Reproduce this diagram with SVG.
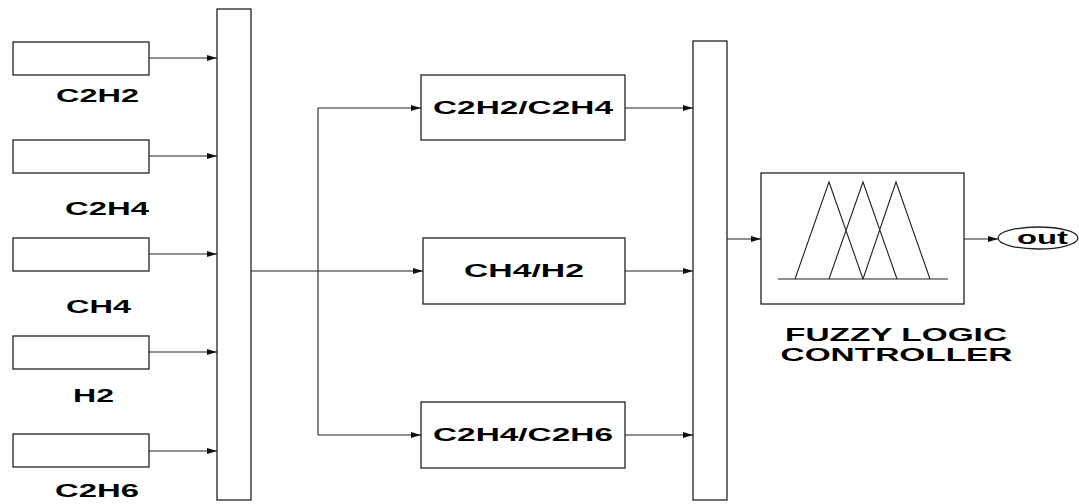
<svg xmlns="http://www.w3.org/2000/svg" width="1079" height="504" viewBox="0 0 1079 504">
<style>
.box{fill:#fff;stroke:#222;stroke-width:1.3}
.ln{fill:none;stroke:#222;stroke-width:1.1}
.t{font-family:"Liberation Sans",Arial,sans-serif;font-weight:bold;font-size:17.5px;fill:#000}
</style>
<defs>
<marker id="ah" viewBox="0 0 10 6" refX="10" refY="3" markerWidth="10" markerHeight="6" markerUnits="userSpaceOnUse" orient="auto">
<path d="M0,0 L10,3 L0,6 z" fill="#111"/>
</marker>
</defs>
<rect width="1079" height="504" fill="#fff"/>
<g id="in-c2h2"><rect class="box" x="13" y="42" width="136" height="33"/><text class="t" x="56" y="102" textLength="83" lengthAdjust="spacingAndGlyphs">C2H2</text></g>
<g id="in-c2h4"><rect class="box" x="13" y="140" width="136" height="33"/><text class="t" x="65" y="215" textLength="84" lengthAdjust="spacingAndGlyphs">C2H4</text></g>
<g id="in-ch4"><rect class="box" x="13" y="238" width="136" height="33"/><text class="t" x="66" y="313" textLength="65" lengthAdjust="spacingAndGlyphs">CH4</text></g>
<g id="in-h2"><rect class="box" x="13" y="336" width="136" height="33"/><text class="t" x="73" y="402" textLength="41" lengthAdjust="spacingAndGlyphs">H2</text></g>
<g id="in-c2h6"><rect class="box" x="13" y="434" width="136" height="33"/><text class="t" x="55" y="497" textLength="84" lengthAdjust="spacingAndGlyphs">C2H6</text></g>
<g id="bus1"><rect class="box" x="217" y="9" width="34" height="491"/></g>
<g id="r1"><rect class="box" x="421" y="75" width="204" height="65"/><text class="t" x="433" y="114" textLength="180" lengthAdjust="spacingAndGlyphs">C2H2/C2H4</text></g>
<g id="r2"><rect class="box" x="423" y="238" width="202" height="66"/><text class="t" x="464" y="277" textLength="120" lengthAdjust="spacingAndGlyphs">CH4/H2</text></g>
<g id="r3"><rect class="box" x="421" y="402" width="204" height="66"/><text class="t" x="433" y="441" textLength="180" lengthAdjust="spacingAndGlyphs">C2H4/C2H6</text></g>
<g id="bus2"><rect class="box" x="693" y="41" width="34" height="459"/></g>
<g id="flc">
<rect class="box" x="761" y="173" width="203" height="131"/>
<line class="ln" x1="778" y1="279" x2="948" y2="279"/>
<path class="ln" d="M795,279 L829,182 L863,279 M829,279 L863,182 L897,279 M863,279 L896,182 L930,279"/>
<text class="t" x="896" y="341" text-anchor="middle" textLength="222" lengthAdjust="spacingAndGlyphs">FUZZY LOGIC</text>
<text class="t" x="896.5" y="361" text-anchor="middle" textLength="232" lengthAdjust="spacingAndGlyphs">CONTROLLER</text>
</g>
<g id="out"><ellipse class="box" cx="1038" cy="238" rx="40" ry="11"/><text class="t" x="1017" y="244" textLength="51" lengthAdjust="spacingAndGlyphs">out</text></g>
<g id="connectors">
<line class="ln" x1="149" y1="58" x2="217" y2="58" marker-end="url(#ah)"/>
<line class="ln" x1="149" y1="156" x2="217" y2="156" marker-end="url(#ah)"/>
<line class="ln" x1="149" y1="254" x2="217" y2="254" marker-end="url(#ah)"/>
<line class="ln" x1="149" y1="352" x2="217" y2="352" marker-end="url(#ah)"/>
<line class="ln" x1="149" y1="451" x2="217" y2="451" marker-end="url(#ah)"/>
<line class="ln" x1="251" y1="271" x2="423" y2="271" marker-end="url(#ah)"/>
<path class="ln" d="M318,108 L318,435"/>
<line class="ln" x1="318" y1="108" x2="421" y2="108" marker-end="url(#ah)"/>
<line class="ln" x1="318" y1="435" x2="421" y2="435" marker-end="url(#ah)"/>
<line class="ln" x1="625" y1="108" x2="693" y2="108" marker-end="url(#ah)"/>
<line class="ln" x1="625" y1="271" x2="693" y2="271" marker-end="url(#ah)"/>
<line class="ln" x1="625" y1="435" x2="693" y2="435" marker-end="url(#ah)"/>
<line class="ln" x1="727" y1="239" x2="761" y2="239" marker-end="url(#ah)"/>
<line class="ln" x1="964" y1="239" x2="998" y2="239" marker-end="url(#ah)"/>
</g>
</svg>
